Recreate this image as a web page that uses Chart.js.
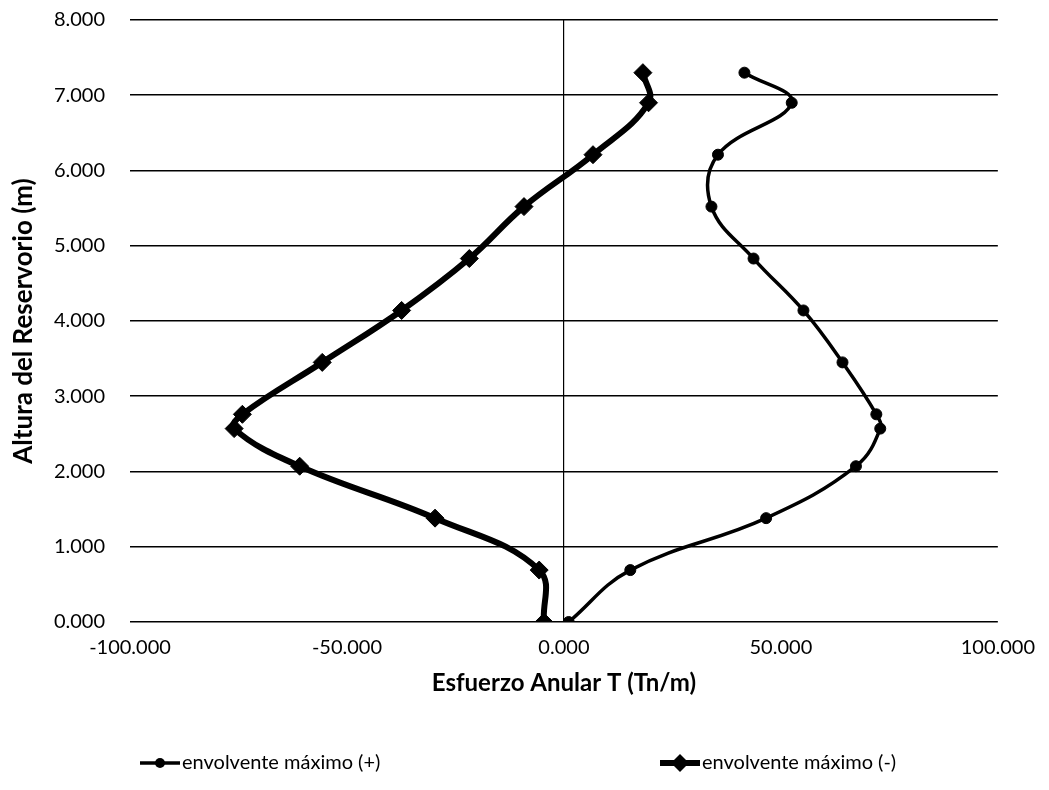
<!doctype html>
<html>

<head>
    <title>Esfuerzo Anular</title>
    <meta http-equiv="Content-Type" content="text/html;charset=UTF-8">
    <script src="https://cdn.jsdelivr.net/npm/chart.js@4.4.1/dist/chart.umd.min.js"></script>
    <style>
        body { margin: 0; background: #fff; }
        #caja { width: 1049px; height: 790px; }
    </style>
</head>

<body>
    <div id="caja"><canvas id="grafico"></canvas></div>
</body>
<script>

    // alturas del reservorio (m)
    var alturas = [0, 0.69, 1.38, 2.07, 2.57, 2.76, 3.45, 4.14, 4.83, 5.52, 6.21, 6.90, 7.30];
    // esfuerzo anular T (Tn/m)
    var envolventeMax = [1.1, 15.3, 46.6, 67.3, 72.9, 72.0, 64.2, 55.2, 43.7, 34.0, 35.5, 52.5, 41.6];
    var envolventeMin = [-4.6, -5.7, -29.7, -60.9, -76.0, -74.1, -55.7, -37.4, -21.8, -9.2, 6.7, 19.5, 18.2];

    var ticksX = [-100, -50, 0, 50, 100];
    var ticksY = [0, 1, 2, 3, 4, 5, 6, 7, 8];

    var nombres = ["envolvente máximo (+)", "envolvente máximo (-)"];

    var fuente = "Lato, 'Open Sans', sans-serif";

    function puntos(xs) {
        return xs.map(function (x, i) { return { x: x, y: alturas[i] }; });
    }

    function marcador(ctx, estilo, r, x, y) {
        ctx.beginPath();
        if (estilo === 'circle') {
            ctx.arc(x, y, r, 0, Math.PI * 2);
        } else {
            ctx.moveTo(x, y - r);
            ctx.lineTo(x + r, y);
            ctx.lineTo(x, y + r);
            ctx.lineTo(x - r, y);
            ctx.closePath();
        }
        ctx.fill();
    }

    var leyenda = {
        id: 'leyenda',
        afterDraw: function (chart) {
            var ctx = chart.ctx;
            var inicio = [140, 660];
            chart.data.datasets.forEach(function (ds, i) {
                var x = inicio[i], y = 763;
                ctx.save();
                ctx.strokeStyle = '#000';
                ctx.fillStyle = '#000';
                ctx.lineWidth = ds.borderWidth;
                ctx.beginPath();
                ctx.moveTo(x, y);
                ctx.lineTo(x + 40, y);
                ctx.stroke();
                marcador(ctx, ds.pointStyle, ds.pointStyle === 'circle' ? 5 : 9, x + 20, y);
                ctx.font = "20px " + fuente;
                ctx.textBaseline = 'middle';
                ctx.fillText(ds.label, x + 42, y);
                ctx.restore();
            });
        }
    };

    var grafico = new Chart(document.getElementById("grafico"), {
        type: 'scatter',
        data: {
            datasets: [
                {
                    label: nombres[0],
                    data: puntos(envolventeMax),
                    showLine: true,
                    tension: 0.4,
                    borderColor: '#000',
                    backgroundColor: '#000',
                    borderWidth: 3.5,
                    pointStyle: 'circle',
                    pointRadius: 5.5,
                    pointBorderWidth: 1
                },
                {
                    label: nombres[1],
                    data: puntos(envolventeMin),
                    showLine: true,
                    tension: 0.4,
                    borderColor: '#000',
                    backgroundColor: '#000',
                    borderWidth: 6,
                    pointStyle: 'rectRot',
                    pointRadius: 9,
                    pointBorderWidth: 1
                }
            ]
        },
        options: {
            responsive: true,
            maintainAspectRatio: false,
            animation: false,
            layout: { padding: { top: 20, right: 49, bottom: 80, left: 0 } },
            plugins: {
                legend: { display: false },
                tooltip: { enabled: false }
            },
            scales: {
                x: {
                    type: 'linear',
                    min: -100,
                    max: 100,
                    afterBuildTicks: function (s) { s.ticks = ticksX.map(function (v) { return { value: v }; }); },
                    afterFit: function (s) { s.height = 88; },
                    ticks: {
                        color: '#000',
                        padding: 14,
                        maxRotation: 0,
                        font: { family: fuente, size: 20 },
                        callback: function (v) { return v.toFixed(3); }
                    },
                    grid: {
                        drawTicks: false,
                        color: function (c) { return c.tick && c.tick.value === 0 ? '#000' : 'rgba(0,0,0,0)'; },
                        lineWidth: 1.2
                    },
                    border: { display: false },
                    title: {
                        display: true,
                        text: 'Esfuerzo Anular T (Tn/m)',
                        color: '#000',
                        font: { family: fuente, size: 24, weight: 'bold' },
                        padding: { top: 0, bottom: 12 }
                    }
                },
                y: {
                    type: 'linear',
                    min: 0,
                    max: 8,
                    afterBuildTicks: function (s) { s.ticks = ticksY.map(function (v) { return { value: v }; }); },
                    afterFit: function (s) { s.width = 130; s.paddingTop = 0; s.paddingBottom = 0; },
                    ticks: {
                        color: '#000',
                        padding: 25,
                        font: { family: fuente, size: 20 },
                        callback: function (v) { return v.toFixed(3); }
                    },
                    grid: {
                        drawTicks: false,
                        color: '#000',
                        lineWidth: 1.6
                    },
                    border: { display: false },
                    title: {
                        display: true,
                        text: 'Altura del Reservorio (m)',
                        color: '#000',
                        font: { family: fuente, size: 26, weight: 'bold' },
                        padding: { top: 8, bottom: 0 }
                    }
                }
            }
        },
        plugins: [leyenda]
    });
</script>

</html>
